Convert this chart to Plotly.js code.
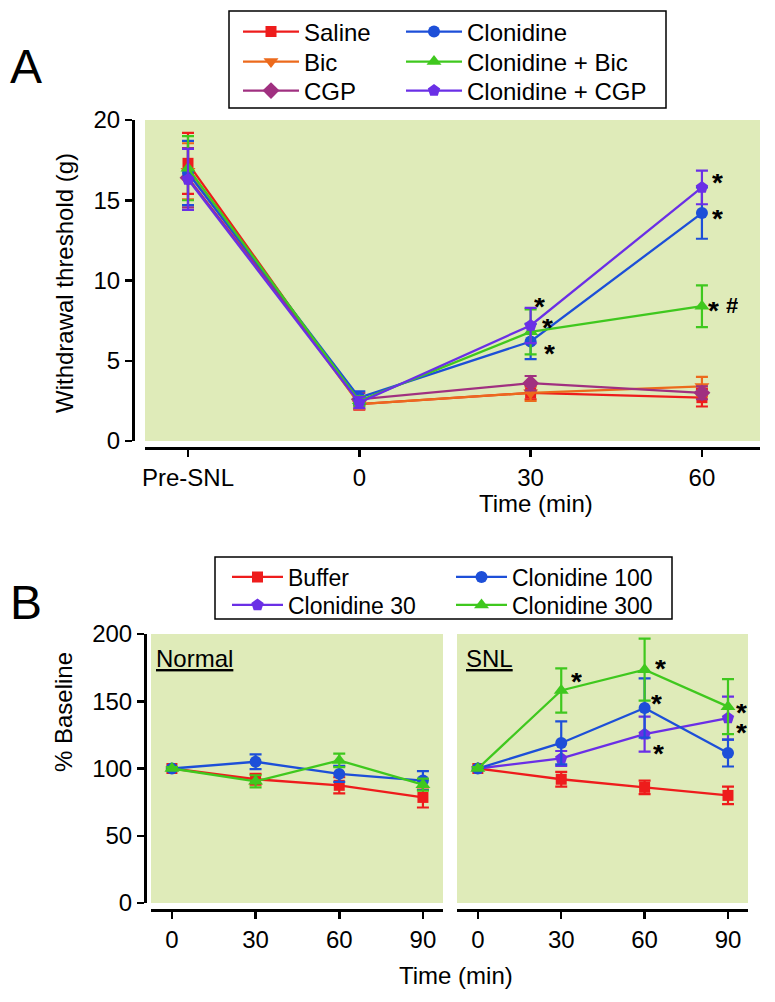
<!DOCTYPE html>
<html><head><meta charset="utf-8">
<script src="https://cdn.plot.ly/plotly-3.0.1.min.js"></script>
<style>html,body{margin:0;padding:0;background:#fff}#chart{width:775px;height:1002px}</style>
</head><body><div id="chart"></div>
<script>
// ---------- Panel A data ----------
const timeLabelsA = ['Pre-SNL', '0', '30', '60'];
const timeIndexA = [0, 1, 2, 3];
const salineMean = [17.3, 2.3, 3.0, 2.7];
const salineErr = [1.9, 0.35, 0.4, 0.55];
const bicMean = [16.8, 2.3, 3.0, 3.4];
const bicErr = [1.75, 0.3, 0.5, 0.6];
const cgpMean = [16.4, 2.6, 3.6, 3.0];
const cgpErr = [1.85, 0.4, 0.45, 0.4];
const clonMean = [16.7, 2.7, 6.2, 14.2];
const clonErr = [2.0, 0.4, 1.1, 1.6];
const clonBicMean = [17.0, 2.5, 6.8, 8.4];
const clonBicErr = [2.0, 0.3, 1.4, 1.3];
const clonCgpMean = [16.3, 2.4, 7.2, 15.8];
const clonCgpErr = [1.9, 0.35, 1.1, 1.05];
const yTicksA = [0, 5, 10, 15, 20];

// significance marks, panel A (data coordinates)
const starsAx = [2.05, 2.10, 2.11, 3.09, 3.09, 3.07, 3.175];
const starsAy = [8.75, 7.4, 5.8, 16.45, 14.2, 8.5, 8.45];
const starsAtext = ['*', '*', '*', '*', '*', '*', '#'];

// ---------- Panel B data ----------
const timeB = [0, 30, 60, 90];
const yTicksB = [0, 50, 100, 150, 200];
// Normal
const nBufferMean = [100, 92, 87.5, 78.5];
const nBufferErr = [1, 4, 6, 7.5];
const nClon100Mean = [100, 105, 96, 91];
const nClon100Err = [1, 5.5, 6, 7];
const nClon300Mean = [100, 90.5, 106, 88];
const nClon300Err = [1, 4.5, 5, 4.5];
// SNL
const sBufferMean = [100, 92, 86, 80];
const sBufferErr = [1, 5.5, 5, 6.5];
const sClon30Mean = [100, 107.5, 125.5, 137.5];
const sClon30Err = [1, 5.5, 13, 16];
const sClon100Mean = [100, 119, 145, 111.5];
const sClon100Err = [1, 16, 22, 10];
const sClon300Mean = [100, 158, 173.5, 146];
const sClon300Err = [1, 16.5, 23, 20.5];

// significance marks, panel B SNL (data coordinates)
const starsBx = [35.6, 65.8, 64.4, 65.1, 95.0, 95.0];
const starsBy = [168.8, 178.4, 152.4, 115.2, 145.7, 130.9];

// ---------- styling ----------
const FONT = 'Liberation Sans, Arial, Helvetica, sans-serif';
const C = {
  red: '#ee1c1c', orange: '#ec6a1c', magenta: '#a03080',
  blue: '#1d4fd8', green: '#3fc81e', violet: '#6a2fe6'
};
const BG = '#dfebb9';
const W = 775, H = 1002;
const PX = p => p / W;
const PY = p => 1 - p / H;

function tr(name, x, y, err, color, symbol, xa, ya, legend, showlegend, size) {
  return {
    type: 'scatter', mode: 'lines+markers', name: name, x: x, y: y,
    xaxis: xa, yaxis: ya, legend: legend, showlegend: showlegend,
    line: {color: color, width: 2.3},
    marker: {color: color, symbol: symbol, size: size || 12},
    error_y: {type: 'data', array: err, visible: true, color: color, thickness: 2.2, width: 6}
  };
}

const traces = [
  tr('Saline', timeIndexA, salineMean, salineErr, C.red, 'square', 'x', 'y', 'legend', true, 11),
  tr('Bic', timeIndexA, bicMean, bicErr, C.orange, 'triangle-down', 'x', 'y', 'legend2', true, 13),
  tr('CGP', timeIndexA, cgpMean, cgpErr, C.magenta, 'diamond', 'x', 'y', 'legend3', true, 13),
  tr('Clonidine', timeIndexA, clonMean, clonErr, C.blue, 'circle', 'x', 'y', 'legend4', true, 12),
  tr('Clonidine + Bic', timeIndexA, clonBicMean, clonBicErr, C.green, 'triangle-up', 'x', 'y', 'legend5', true, 13),
  tr('Clonidine + CGP', timeIndexA, clonCgpMean, clonCgpErr, C.violet, 'pentagon', 'x', 'y', 'legend6', true, 13),

  tr('Buffer', timeB, nBufferMean, nBufferErr, C.red, 'square', 'x2', 'y2', 'legend7', false, 11),
  tr('Clonidine 100', timeB, nClon100Mean, nClon100Err, C.blue, 'circle', 'x2', 'y2', 'legend9', false, 12),
  tr('Clonidine 300', timeB, nClon300Mean, nClon300Err, C.green, 'triangle-up', 'x2', 'y2', 'legend10', false, 13),

  tr('Buffer', timeB, sBufferMean, sBufferErr, C.red, 'square', 'x3', 'y3', 'legend7', true, 11),
  tr('Clonidine 30', timeB, sClon30Mean, sClon30Err, C.violet, 'pentagon', 'x3', 'y3', 'legend8', true, 13),
  tr('Clonidine 100', timeB, sClon100Mean, sClon100Err, C.blue, 'circle', 'x3', 'y3', 'legend9', true, 12),
  tr('Clonidine 300', timeB, sClon300Mean, sClon300Err, C.green, 'triangle-up', 'x3', 'y3', 'legend10', true, 13)
];

const axBase = {
  showline: true, linecolor: '#000', linewidth: 3, ticks: 'outside', ticklen: 7,
  tickwidth: 2.5, tickcolor: '#000', showgrid: false, zeroline: false,
  tickfont: {family: FONT, size: 24, color: '#000'}, fixedrange: true, anchor: 'free'
};

function leg(xpx, ypx, iw, fs) {
  return {
    x: PX(xpx), y: PY(ypx), xanchor: 'left', yanchor: 'middle',
    bgcolor: 'rgba(0,0,0,0)', borderwidth: 0, itemwidth: iw,
    font: {family: FONT, size: fs, color: '#000'}, itemclick: false, itemdoubleclick: false
  };
}

const annotations = [];
function txt(text, xpx, ypx, size, opts) {
  annotations.push(Object.assign({
    text: text, xref: 'paper', yref: 'paper', x: PX(xpx), y: PY(ypx),
    xanchor: 'center', yanchor: 'middle', showarrow: false,
    font: {family: FONT, size: size, color: '#000'}
  }, opts || {}));
}
txt('A', 8, 67, 48, {xanchor: 'left'});
txt('B', 8, 602, 48, {xanchor: 'left'});
txt('Withdrawal threshold (g)', 64, 283, 24, {textangle: -90});
txt('% Baseline', 63, 712, 24, {textangle: -90});
txt('Time (min)', 536, 503, 24);
txt('Time (min)', 456, 975, 24);
txt('<u>Normal</u>', 154, 658, 24, {xanchor: 'left'});
txt('<u>SNL</u>', 464, 658, 24, {xanchor: 'left'});

starsAx.forEach((x, i) => {
  const isStar = starsAtext[i] === '*';
  annotations.push({
    text: starsAtext[i], xref: 'x', yref: 'y', x: x, y: starsAy[i], showarrow: false,
    xanchor: 'center', yanchor: 'middle', yshift: isStar ? -5 : 0, height: 16,
    font: {family: FONT, size: isStar ? 28 : 22, color: '#000', weight: 'bold'}
  });
});
starsBx.forEach((x, i) => {
  annotations.push({
    text: '*', xref: 'x3', yref: 'y3', x: x, y: starsBy[i], showarrow: false,
    xanchor: 'center', yanchor: 'middle', yshift: -5, height: 16,
    font: {family: FONT, size: 28, color: '#000', weight: 'bold'}
  });
});

const layout = {
  width: W, height: H, margin: {l: 0, r: 0, t: 0, b: 0},
  paper_bgcolor: '#ffffff', plot_bgcolor: BG,
  font: {family: FONT, color: '#000'},
  showlegend: true,
  xaxis: Object.assign({}, axBase, {
    domain: [PX(145), PX(760)], range: [-0.251, 3.339],
    tickvals: timeIndexA, ticktext: timeLabelsA, position: PY(448)
  }),
  yaxis: Object.assign({}, axBase, {
    domain: [PY(441), PY(120)], range: [0, 20], tickvals: yTicksA, position: PX(133)
  }),
  xaxis2: Object.assign({}, axBase, {
    domain: [PX(151), PX(443)], range: [-7.5, 97.2], tickvals: timeB, position: PY(910)
  }),
  yaxis2: Object.assign({}, axBase, {
    domain: [PY(903), PY(634)], range: [0, 200], tickvals: yTicksB, position: PX(145)
  }),
  xaxis3: Object.assign({}, axBase, {
    domain: [PX(457), PX(748)], range: [-7.5, 97.2], tickvals: timeB, position: PY(910)
  }),
  yaxis3: {domain: [PY(903), PY(634)], range: [0, 200], visible: false, anchor: 'x3', fixedrange: true},
  legend: leg(238, 32, 56, 24),
  legend2: leg(238, 62, 56, 24),
  legend3: leg(238, 91, 56, 24),
  legend4: leg(401, 32, 56, 24),
  legend5: leg(401, 62, 56, 24),
  legend6: leg(401, 91, 56, 24),
  legend7: leg(227, 577, 51, 23),
  legend8: leg(227, 605, 51, 23),
  legend9: leg(451, 577, 51, 23),
  legend10: leg(451, 605, 51, 23),
  shapes: [
    {type: 'rect', xref: 'paper', yref: 'paper', x0: PX(229), x1: PX(666), y0: PY(108), y1: PY(11),
     line: {color: '#000', width: 1.5}, fillcolor: 'rgba(0,0,0,0)'},
    {type: 'rect', xref: 'paper', yref: 'paper', x0: PX(215), x1: PX(672), y0: PY(619), y1: PY(557),
     line: {color: '#000', width: 1.5}, fillcolor: 'rgba(0,0,0,0)'}
  ],
  annotations: annotations
};

Plotly.newPlot('chart', traces, layout, {displayModeBar: false, staticPlot: true});
</script>
</body></html>
